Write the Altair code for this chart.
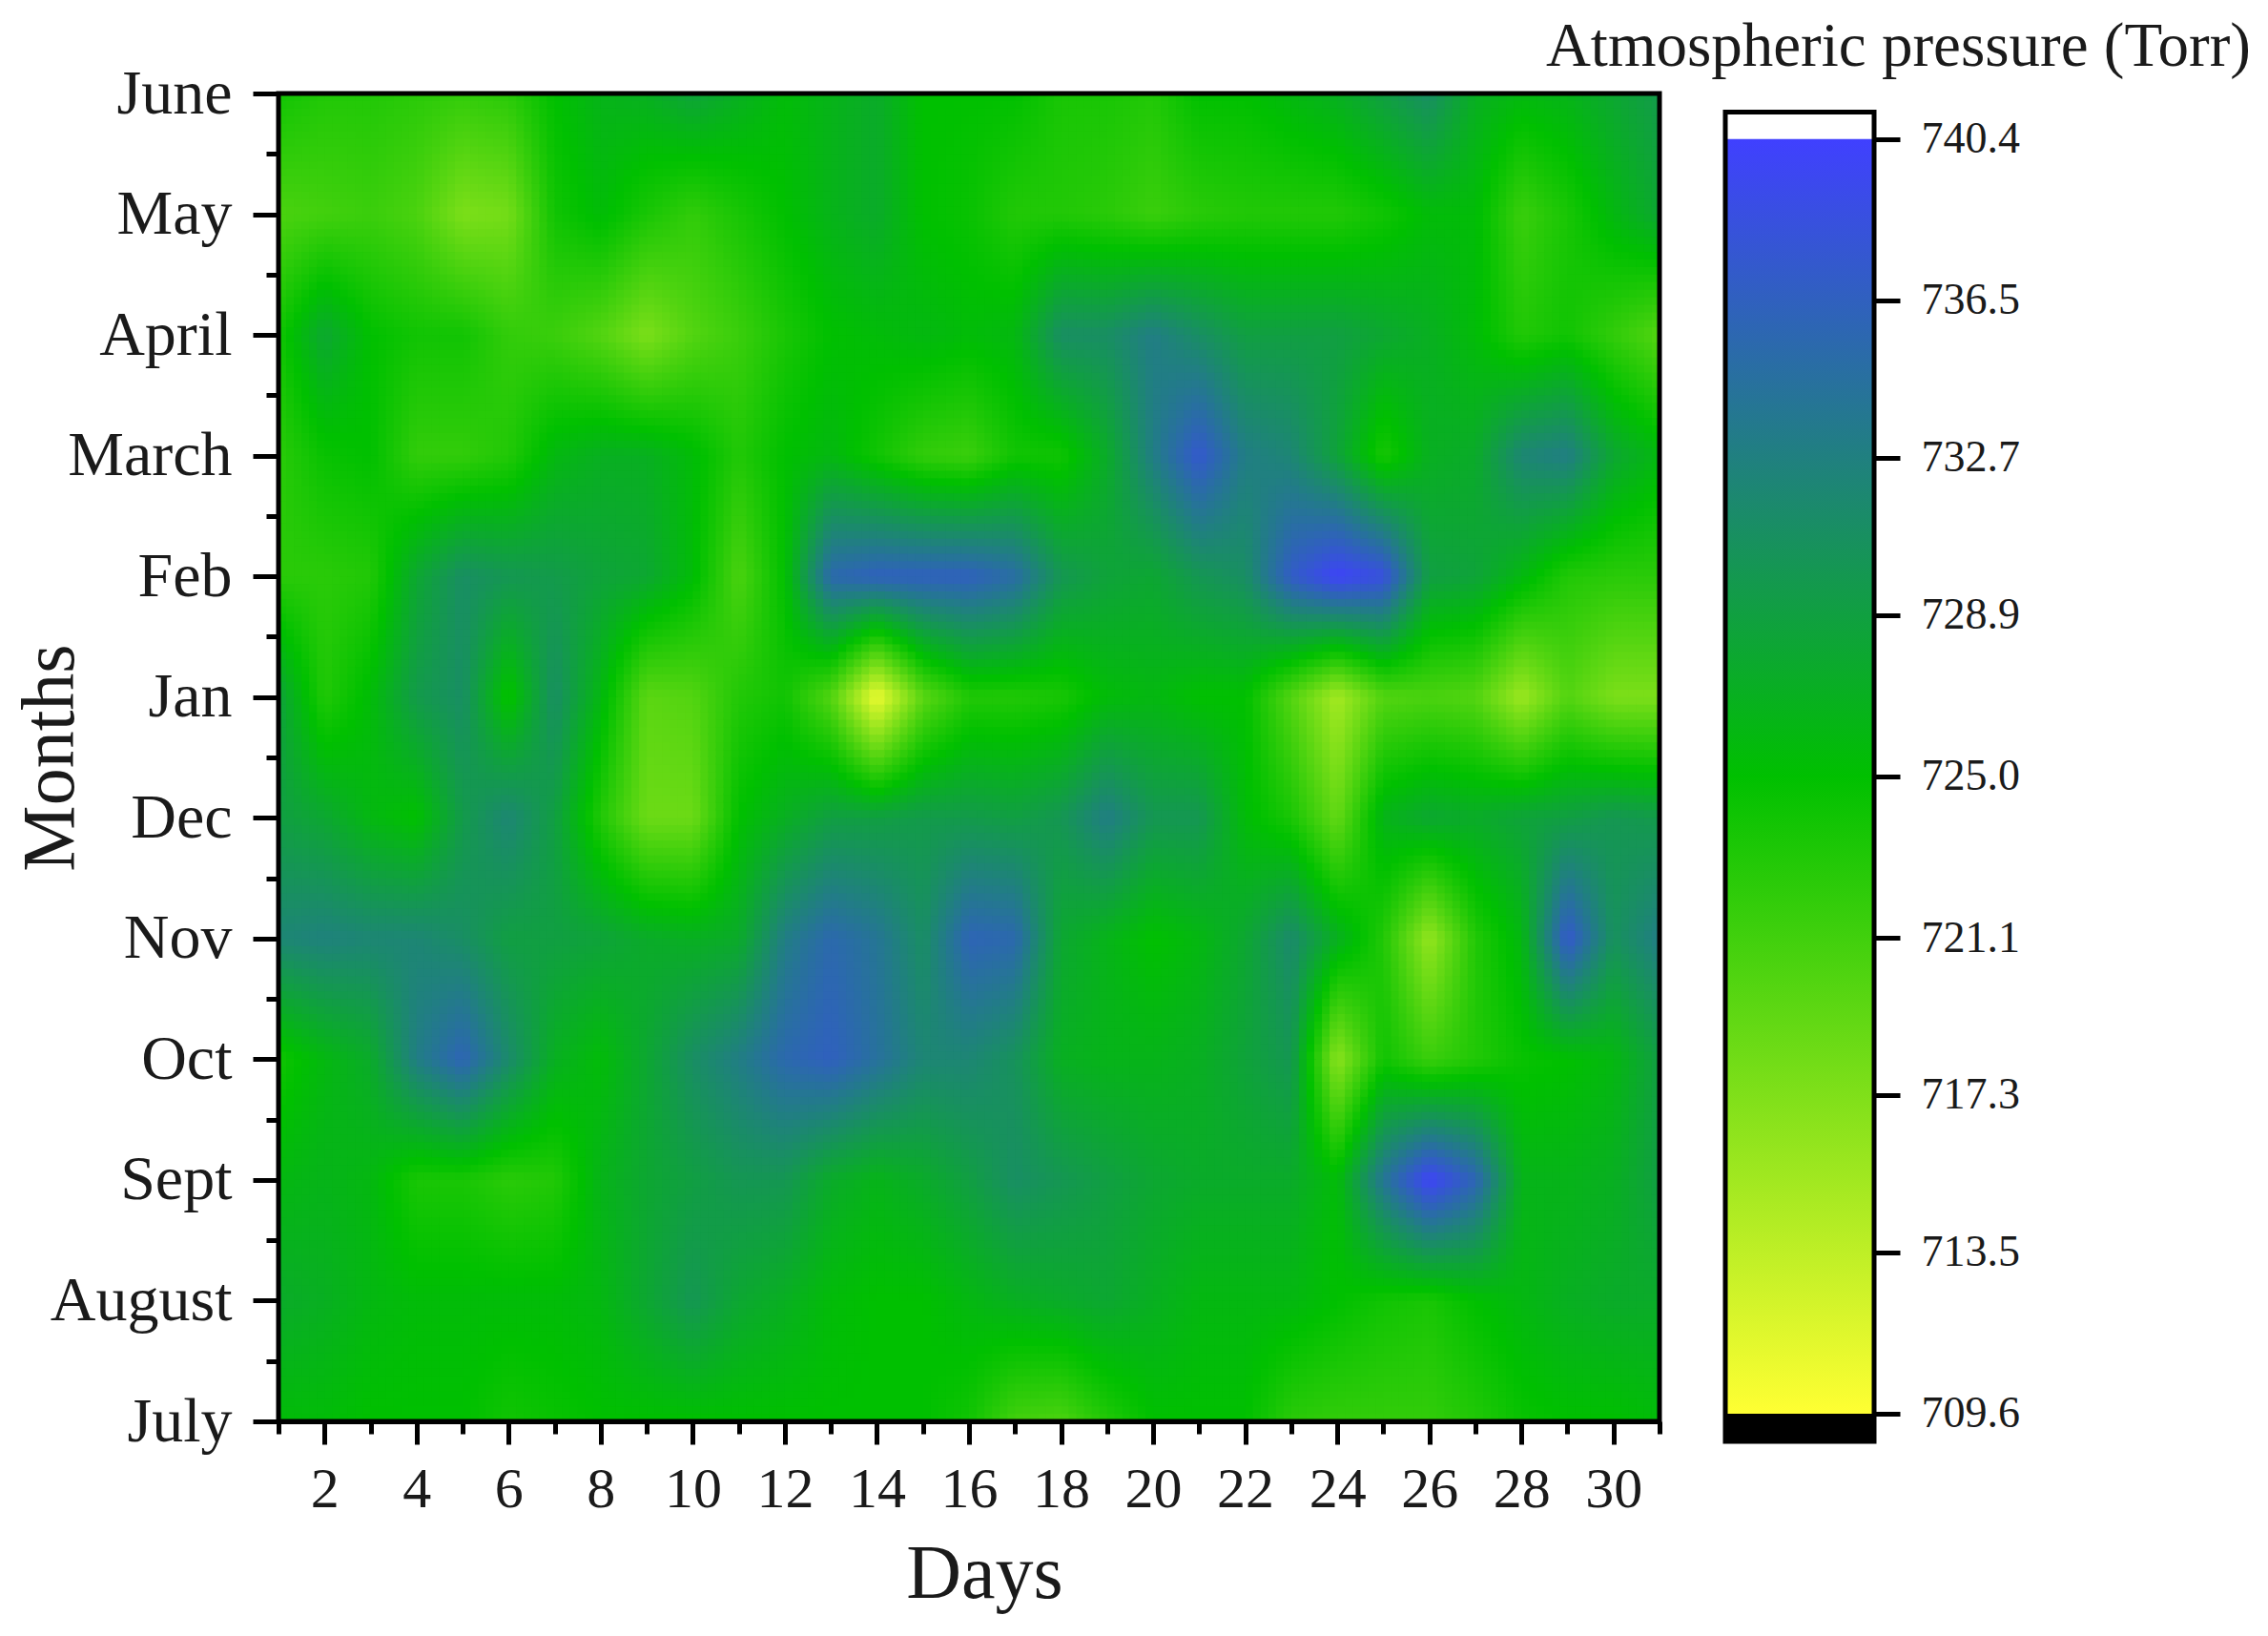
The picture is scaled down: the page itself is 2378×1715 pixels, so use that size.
import json

import altair as alt
import pandas as pd

# pressure, one list per month, days 1..31
jul = [725.5, 725.5, 725, 725, 725, 724, 724.5, 725, 725, 725, 725, 725, 725, 725, 725, 724, 721, 720.5, 723, 725, 725, 725, 722.5, 722, 722, 722, 723, 724.5, 725, 725, 725.5]
aug = [727.5, 727, 726, 725.5, 725.5, 725.5, 725.5, 726, 728, 730, 728, 727, 725.5, 725, 725, 726, 727, 727.5, 728, 727, 726, 726, 726, 725, 724, 723.5, 725, 726, 727, 727.5, 727.5]
sep = [726, 726.5, 726, 723.5, 723.5, 722.5, 723, 726.5, 728, 729, 730, 730, 727.5, 726.5, 727.5, 729, 731, 730, 729, 728, 727.5, 727.5, 727.5, 725.5, 734, 740, 736, 726.5, 726.5, 727, 729]
oct_ = [724, 726, 727.5, 733, 736, 731.5, 727, 725.5, 728, 731, 733, 735.5, 736.5, 734.5, 732, 732, 730.5, 727, 726.5, 726.5, 727, 728.5, 730, 716.5, 724, 721.5, 723, 724.5, 725, 726, 729]
nov = [732, 732.5, 732, 732, 731, 729, 729, 728.5, 727.5, 727, 727.5, 733, 735.5, 734, 731, 736, 735.5, 728, 726.5, 725, 726, 728, 731.5, 727, 723, 716, 723, 726, 737.5, 730.5, 733]
dec = [729, 728, 726, 725, 729.5, 732, 729, 723, 718.5, 718.5, 725, 727, 729, 729, 729.5, 729.5, 729, 730, 733, 730, 730, 725.5, 723.5, 719, 726.5, 728, 727.5, 728.5, 729, 730, 729.5]
jan = [728.5, 723, 725.5, 729.5, 731, 724.5, 731, 726, 719.5, 720, 723, 724, 720, 710.5, 719.5, 723, 723, 723.5, 725.5, 726, 725, 725, 720, 715, 720, 720.5, 720, 715.5, 720, 717.5, 717.5]
feb = [722.5, 722.5, 723, 728, 731, 730, 729.5, 728.5, 728, 725.5, 720.5, 725, 735.5, 736.5, 736.5, 736.5, 735, 730, 728.5, 728, 730, 731, 737, 740, 738.5, 729, 728.5, 726, 723, 722.5, 722.5]
mar = [722.5, 724.5, 725, 722, 722, 723, 726, 727, 727, 725.5, 723, 725, 726, 724, 722, 721.5, 724, 724, 727.5, 733, 737.5, 733, 732, 728.5, 723.5, 727, 727.5, 732, 733, 728, 726]
apr = [724, 728, 725, 724, 724, 722, 721.5, 720, 717.5, 720, 721.5, 723.5, 725, 725.5, 726, 725.5, 726, 731, 731, 733, 731, 729, 729, 729, 728, 727, 725.5, 723, 724, 722, 720]
may = [720.5, 721, 721.5, 720.5, 717.5, 718, 724, 725.5, 723.5, 722, 723.5, 725, 726.5, 727.5, 725, 724.5, 723, 723, 722.5, 721.5, 722.5, 723, 723, 723, 724, 725.5, 725.5, 721.5, 723.5, 726, 728]
jun = [724, 723, 723, 722.5, 722, 722.5, 725, 726.5, 727, 728.5, 727, 725.5, 726.5, 727.5, 725, 725, 725, 723.5, 723.5, 723, 725, 725, 726, 727, 729, 731, 727, 726, 726.5, 728, 729.5]

months = ["July", "August", "Sept", "Oct", "Nov", "Dec", "Jan", "Feb", "March", "April", "May", "June"]
rows = [jul, aug, sep, oct_, nov, dec, jan, feb, mar, apr, may, jun]
bar_ticks = [709.6, 713.5, 717.3, 721.1, 725.0, 728.9, 732.7, 736.5, 740.4]
ramp_values = [709.6, 725.0, 740.4]
ramp_colors = ["#ffff33", "#00c000", "#4040ff"]

# one record per grid cell, with its four corner readings
cells = []
for m in range(len(rows) - 1):
    for d in range(30):
        cells.append({
            "day": d + 1, "m": m,
            "a": rows[m][d], "b": rows[m][d + 1],
            "c": rows[m + 1][d], "e": rows[m + 1][d + 1],
        })
cells = pd.DataFrame(cells)

axis_font = "Liberation Serif"
ink = "#1a1a1a"
line = 5

day_x = alt.X(
    "x0:Q",
    title="Days",
    scale=alt.Scale(domain=[1, 31], nice=False, zero=False),
    axis=alt.Axis(
        values=list(range(1, 32)),
        labelExpr="datum.value % 2 == 0 ? datum.value : ''",
        tickSize={"condition": {"test": "datum.value % 2 == 0", "value": 24}, "value": 13},
        labelFontSize=60,
        labelPadding=18,
        labelOverlap=False,
        labelFlush=False,
        titleFontSize=80,
        titlePadding=20,
        titleX=740,
        grid=False,
    ),
)
month_y = alt.Y(
    "y0:Q",
    title="Months",
    scale=alt.Scale(domain=[0, 11], nice=False, zero=False),
    axis=alt.Axis(
        values=[i / 2 for i in range(23)],
        labelExpr=f"datum.value % 1 == 0 ? {json.dumps(months)}[datum.value] : ''",
        tickSize={"condition": {"test": "datum.value % 1 == 0", "value": 27}, "value": 13},
        labelFontSize=66,
        labelPadding=22,
        labelLimit=400,
        labelOverlap=False,
        labelFlush=False,
        titleFontSize=78,
        titlePadding=0,
        grid=False,
    ),
)

# contour shading: vega-lite blends the corners across each cell
shading = (
    alt.Chart(cells)
    .transform_calculate(s="sequence(0, 6)")
    .transform_flatten(["s"])
    .transform_calculate(t="sequence(0, 16)")
    .transform_flatten(["t"])
    .transform_calculate(
        u="(datum.s + 0.5) / 6",
        w="(datum.t + 0.5) / 16",
        x0="datum.day + datum.s / 6",
        x1="datum.day + (datum.s + 1.25) / 6",
        y0="datum.m + datum.t / 16",
        y1="datum.m + (datum.t + 1.25) / 16",
        torr="(1 - datum.w) * ((1 - datum.u) * datum.a + datum.u * datum.b)"
             " + datum.w * ((1 - datum.u) * datum.c + datum.u * datum.e)",
    )
    .mark_rect(clip=True)
    .encode(
        x=day_x,
        x2="x1:Q",
        y=month_y,
        y2="y1:Q",
        color=alt.Color(
            "torr:Q",
            scale=alt.Scale(domain=ramp_values, range=ramp_colors, interpolate="rgb"),
            legend=None,
        ),
    )
)
# frame has to sit on top of the shading
border = (
    alt.Chart(pd.DataFrame({"x0": [1], "x1": [31], "y0": [0], "y1": [11]}))
    .mark_rect(fill="transparent", stroke="black", strokeWidth=line)
    .encode(x=day_x, x2="x1:Q", y=month_y, y2="y1:Q")
)
contour = alt.layer(shading, border).properties(width=1448, height=1392)

# colour bar
bar_top = 741.05
bar_bottom = 708.93
bar_y = alt.Y(
    "lo:Q",
    title=None,
    scale=alt.Scale(domain=[bar_bottom, 741.5], nice=False, zero=False),
    axis=alt.Axis(
        values=bar_ticks,
        orient="right",
        format=".1f",
        domain=False,
        tickSize=27,
        labelFontSize=46,
        labelPadding=22,
        grid=False,
    ),
)
bar_x = {"x": alt.value(0), "x2": alt.value(156)}

ramp = (
    alt.Chart(pd.DataFrame({"lo": [ramp_values[0]], "hi": [ramp_values[-1]]}))
    .mark_rect(
        color=alt.LinearGradient(
            gradient="linear",
            stops=[
                alt.GradientStop(color=ramp_colors[0], offset=0),
                alt.GradientStop(color=ramp_colors[1], offset=0.5),
                alt.GradientStop(color=ramp_colors[2], offset=1),
            ],
            x1=0, x2=0, y1=1, y2=0,
        )
    )
    .encode(y=bar_y, y2="hi:Q", **bar_x)
)
under = (
    alt.Chart(pd.DataFrame({"lo": [bar_bottom], "hi": [ramp_values[0]]}))
    .mark_rect(color="black")
    .encode(y=bar_y, y2="hi:Q", **bar_x)
)
frame = (
    alt.Chart(pd.DataFrame({"lo": [bar_bottom], "hi": [bar_top]}))
    .mark_rect(fill="transparent", stroke="black", strokeWidth=line)
    .encode(y=bar_y, y2="hi:Q", **bar_x)
)
colorbar = alt.layer(ramp, under, frame).properties(width=156, height=1413)

chart = (
    alt.hconcat(contour, colorbar, spacing=63)
    .properties(
        padding={"left": 5, "top": 8, "right": 2, "bottom": 5},
        title=alt.TitleParams(
            "Atmospheric pressure (Torr)",
            fontSize=65,
            fontWeight="normal",
            font=axis_font,
            color=ink,
            anchor="end",
            dx=242,
            offset=-18,
        ),
    )
    .configure_view(stroke="transparent")
    .configure_axis(
        domainColor="black",
        domainWidth=line,
        tickColor="black",
        tickWidth=line,
        labelFont=axis_font,
        labelColor=ink,
        titleFont=axis_font,
        titleColor=ink,
        titleFontWeight="normal",
    )
)

chart.save("out.html", embed_options={"renderer": "svg", "actions": False})
